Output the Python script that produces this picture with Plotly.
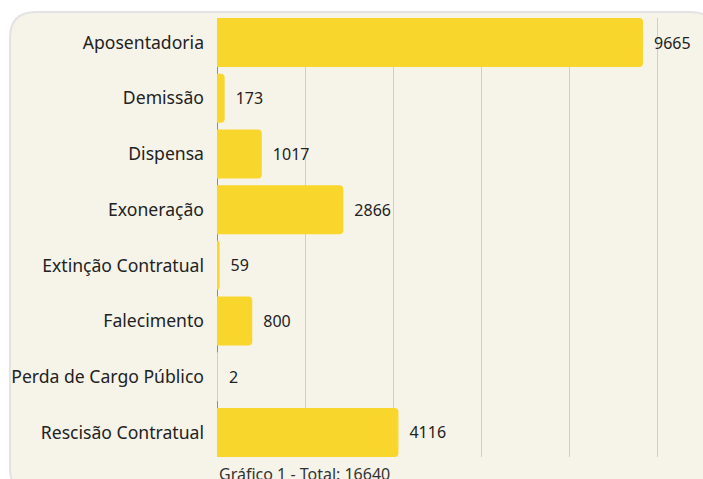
import plotly.graph_objects as go

categories = ["Aposentadoria", "Demissão", "Dispensa", "Exoneração",
              "Extinção Contratual", "Falecimento", "Perda de Cargo Público",
              "Rescisão Contratual"]
values = [9665, 173, 1017, 2866, 59, 800, 2, 4116]
caption = "Gráfico 1 - Total: 16640"

W, H = 703, 479
ML, MR, MT, MB = 217, 0, 18, 22
PW, PH = W - ML - MR, H - MT - MB


def px(x):
    return (x - ML) / PW


def py(y):
    return 1 - (y - MT) / PH


# rounded card background (pixel coords converted to paper)
cx0, cy0, cx1, cy1, r = 10, 12, 716, 494, 26
pts = (
    f"M {px(cx0 + r)},{py(cy0)} L {px(cx1 - r)},{py(cy0)} "
    f"Q {px(cx1)},{py(cy0)} {px(cx1)},{py(cy0 + r)} "
    f"L {px(cx1)},{py(cy1 - r)} Q {px(cx1)},{py(cy1)} {px(cx1 - r)},{py(cy1)} "
    f"L {px(cx0 + r)},{py(cy1)} Q {px(cx0)},{py(cy1)} {px(cx0)},{py(cy1 - r)} "
    f"L {px(cx0)},{py(cy0 + r)} Q {px(cx0)},{py(cy0)} {px(cx0 + r)},{py(cy0)} Z"
)

fig = go.Figure(
    go.Bar(
        x=values,
        y=categories,
        orientation="h",
        marker=dict(color="#F9D62C", line=dict(width=0), cornerradius=4),
        text=values,
        texttemplate="\u2002%{x}",
        textposition="outside",
        textfont=dict(family="Noto Sans", size=16, color="#222222"),
        constraintext="none",
        cliponaxis=False,
        width=0.88,
    )
)

fig.update_layout(
    width=W,
    height=H,
    margin=dict(l=ML, r=MR, t=MT, b=MB, pad=0),
    paper_bgcolor="white",
    plot_bgcolor="rgba(0,0,0,0)",
    showlegend=False,
    font=dict(family="Noto Sans", color="#222222"),
    shapes=[
        dict(type="path", xref="paper", yref="paper", path=pts,
             fillcolor="#F6F4E9", line=dict(color="#E3E3E3", width=2),
             layer="below"),
    ],
    annotations=[
        dict(text=caption, xref="paper", yref="paper", x=0, y=py(461),
             xanchor="left", yanchor="top", showarrow=False,
             font=dict(family="Noto Sans", size=16, color="#333333")),
    ],
)

fig.update_xaxes(
    range=[0, 11025],
    dtick=2000,
    showgrid=True,
    gridcolor="#D2CFC5",
    gridwidth=1.3,
    zeroline=True,
    zerolinecolor="#8E8C84",
    zerolinewidth=1.3,
    showticklabels=False,
    ticks="",
    fixedrange=True,
)

fig.update_yaxes(
    categoryorder="array",
    categoryarray=categories,
    range=[7.44, -0.44],
    showgrid=False,
    zeroline=False,
    ticks="",
    ticklabelstandoff=12,
    tickfont=dict(family="Noto Sans", size=17.6, color="#222222"),
    fixedrange=True,
)

fig.write_html(
    "out.html",
    config={"displayModeBar": False},
    post_script="document.body.style.margin='0';document.body.style.overflow='hidden';",
)
